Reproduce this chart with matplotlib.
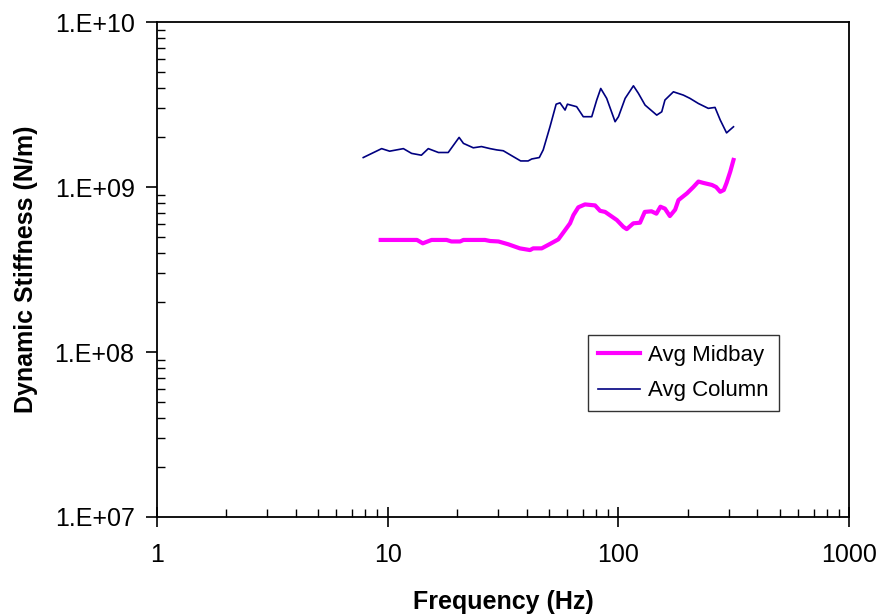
import matplotlib.pyplot as plt
from matplotlib.ticker import LogLocator, NullFormatter, FixedLocator

plt.rcParams['font.family'] = ['Liberation Sans', 'DejaVu Sans']
plt.rcParams['font.size'] = 18

# Avg Column (navy, thin)
col_freq = [7.84, 9.42, 10.2, 11.7, 12.7, 14.0, 15.0, 16.6, 18.3, 20.4, 21.3, 23.5,
            25.5, 27.8, 29.7, 31.7, 35.0, 37.7, 40.6, 42.1, 45.4, 47.2, 50.5, 53.7,
            55.8, 58.7, 60.1, 65.9, 70.4, 76.6, 80.5, 83.8, 88.9, 96.7, 100, 106.9,
            116.1, 122, 130.4, 146.5, 154, 159, 173, 191, 204, 222, 245, 262, 276,
            294, 305, 315]
col_stiff = [1.51e9, 1.71e9, 1.65e9, 1.71e9, 1.60e9, 1.56e9, 1.71e9, 1.62e9, 1.62e9,
             2.0e9, 1.84e9, 1.73e9, 1.76e9, 1.71e9, 1.68e9, 1.66e9, 1.53e9, 1.44e9,
             1.44e9, 1.48e9, 1.51e9, 1.68e9, 2.32e9, 3.18e9, 3.24e9, 2.93e9, 3.18e9,
             3.07e9, 2.67e9, 2.67e9, 3.37e9, 3.96e9, 3.45e9, 2.49e9, 2.67e9, 3.45e9,
             4.11e9, 3.70e9, 3.14e9, 2.73e9, 2.86e9, 3.37e9, 3.78e9, 3.61e9, 3.45e9,
             3.21e9, 3.0e9, 3.04e9, 2.55e9, 2.13e9, 2.23e9, 2.32e9]

# Avg Midbay (magenta, thick)
mid_freq = [9.33, 13.4, 14.2, 15.5, 18.0, 18.9, 20.6, 21.3, 26.4, 27.8, 30.2, 33.3,
            37.4, 41.4, 42.7, 46.5, 50.5, 54.9, 58.7, 61.7, 63.8, 67.0, 71.6, 79.2,
            83.2, 87.5, 98.4, 105, 108.6, 116, 124, 130, 139, 146, 152, 159, 167,
            176, 182, 198, 211, 222, 233, 254, 265, 276, 286, 294, 305, 315]
mid_stiff = [4.78e8, 4.78e8, 4.56e8, 4.78e8, 4.78e8, 4.68e8, 4.68e8, 4.78e8, 4.78e8,
             4.71e8, 4.68e8, 4.50e8, 4.25e8, 4.15e8, 4.25e8, 4.25e8, 4.52e8, 4.82e8,
             5.48e8, 6.03e8, 6.76e8, 7.54e8, 7.85e8, 7.74e8, 7.18e8, 7.07e8, 6.31e8,
             5.74e8, 5.56e8, 6.03e8, 6.08e8, 7.07e8, 7.13e8, 6.9e8, 7.6e8, 7.4e8,
             6.67e8, 7.29e8, 8.34e8, 9.16e8, 1.0e9, 1.08e9, 1.06e9, 1.03e9, 1.0e9,
             9.36e8, 9.6e8, 1.06e9, 1.24e9, 1.46e9]

x_ticks = [1, 10, 100, 1000]
y_ticks = [1e7, 1e8, 1e9, 1e10]
y_labels = ['1.E+07', '1.E+08', '1.E+09', '1.E+10']

fig = plt.figure(figsize=(8.81, 6.14), dpi=100)
ax = fig.add_axes([0.178, 0.158, 0.786, 0.806])

ax.plot(mid_freq, mid_stiff, color='#FF00FF', linewidth=3, label='Avg Midbay')
ax.plot(col_freq, col_stiff, color='#000080', linewidth=1.2, label='Avg Column')

ax.set_xscale('log')
ax.set_yscale('log')
ax.set_xlim(1, 1000)
ax.set_ylim(1e7, 1e10)

ax.xaxis.set_major_locator(FixedLocator(x_ticks))
ax.set_xticklabels(['1', '10', '100', '1000'])
ax.yaxis.set_major_locator(FixedLocator(y_ticks))
ax.set_yticklabels(y_labels)
ax.xaxis.set_minor_locator(LogLocator(base=10, subs=range(2, 10)))
ax.yaxis.set_minor_locator(LogLocator(base=10, subs=range(2, 10)))
ax.xaxis.set_minor_formatter(NullFormatter())
ax.yaxis.set_minor_formatter(NullFormatter())

ax.tick_params(axis='x', which='major', direction='inout', length=14, width=1.2, pad=12)
ax.tick_params(axis='x', which='minor', direction='in', length=6, width=1)
ax.tick_params(axis='y', which='major', direction='out', length=8, width=1.2, pad=8)
ax.tick_params(axis='y', which='minor', direction='in', length=6, width=1)
for s in ax.spines.values():
    s.set_linewidth(1.3)

ax.set_xlabel('Frequency (Hz)', fontweight='bold', fontsize=18, labelpad=16)
ax.set_ylabel('Dynamic Stiffness (N/m)', fontweight='bold', fontsize=18)
ax.yaxis.set_label_coords(-0.172, 0.5)

leg = ax.legend(loc='upper left', bbox_to_anchor=(0.623, 0.368), frameon=True,
                fancybox=False, edgecolor='black', fontsize=16, handlelength=1.9,
                handletextpad=0.35, borderpad=0.45, labelspacing=0.65, borderaxespad=0)
leg.get_frame().set_linewidth(1)

plt.savefig('out.png', dpi=100)
